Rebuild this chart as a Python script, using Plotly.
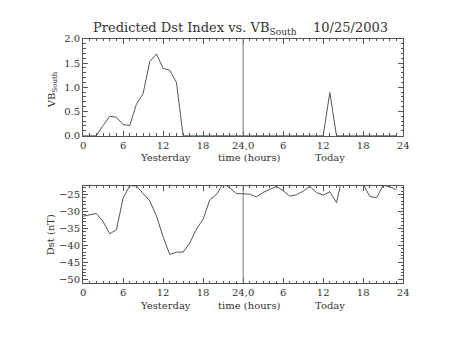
import plotly.graph_objects as go

hours = list(range(48))
vb_south = [0, 0, 0, 0.21, 0.40, 0.38, 0.23, 0.21, 0.65, 0.87, 1.53, 1.69, 1.39, 1.35, 1.10, 0,
            0, 0, 0, 0, 0, 0, 0, 0, 0, 0, 0, 0, 0, 0, 0, 0,
            0, 0, 0, 0, 0, 0.89, 0, 0, 0, 0, 0, 0, 0, 0, 0, 0]
dst = [-31.4, -31.0, -30.6, -33.0, -36.6, -35.4, -26.1, -22.4, -22.5, -24.7, -26.9, -31.3,
       -37.5, -42.7, -42.0, -42.0, -39.3, -35.2, -32.3, -26.6, -25.0, -21.8, -23.1, -24.7,
       -24.7, -24.9, -25.7, -24.4, -23.5, -22.6, -23.9, -25.5, -25.1, -24.0, -22.6, -24.4,
       -25.2, -24.2, -27.4, -18.7, -17.0, -18.0, -22.0, -25.6, -26.0, -22.3, -22.7, -23.6]
xtick_vals = [0, 6, 12, 18, 24, 30, 36, 42, 48]
xtick_text = ["0", "6", "12", "18", "24,0", "6", "12", "18", "24"]
vb_ticks = [0.0, 0.5, 1.0, 1.5, 2.0]
dst_ticks = [-50, -45, -40, -35, -30, -25]

W, H = 453, 340
FONT = "DejaVu Serif"
TXT = "#333"
LINE = "#555"

def px(v):
    return v / W

def py(v):
    return (H - v) / H

fig = go.Figure()
fig.add_trace(go.Scatter(x=hours, y=vb_south, mode="lines", line=dict(color=LINE, width=1),
                         xaxis="x", yaxis="y", showlegend=False))
fig.add_trace(go.Scatter(x=hours, y=dst, mode="lines", line=dict(color=LINE, width=1),
                         xaxis="x2", yaxis="y2", showlegend=False))

xcommon = dict(range=[0, 48], tickmode="array", tickvals=xtick_vals, ticktext=xtick_text,
               ticks="inside", ticklen=5, tickcolor=LINE, showline=True, linecolor=LINE,
               linewidth=1, mirror="ticks", showgrid=False, zeroline=False,
               tickfont=dict(family=FONT, size=10, color=TXT),
               minor=dict(ticks="inside", dtick=1, ticklen=2.5, tickcolor=LINE),
               domain=[px(81.7), px(408.3)])
ycommon = dict(ticks="inside", ticklen=5, tickcolor=LINE, showline=True, linecolor=LINE,
               linewidth=1, mirror="ticks", showgrid=False, zeroline=False,
               tickfont=dict(family=FONT, size=10, color=TXT))

fig.update_layout(
    width=W, height=H, margin=dict(l=0, r=0, t=0, b=0),
    plot_bgcolor="white", paper_bgcolor="white",
    xaxis=dict(xcommon, anchor="y"),
    xaxis2=dict(xcommon, anchor="y2"),
    yaxis=dict(ycommon, range=[0, 2.0], tickvals=vb_ticks, tickformat=".1f",
               minor=dict(ticks="inside", dtick=0.1, ticklen=2.5, tickcolor=LINE),
               domain=[py(135), py(35)], anchor="x"),
    yaxis2=dict(ycommon, range=[-51.1, -22.4], tickvals=dst_ticks,
                minor=dict(ticks="inside", dtick=1, ticklen=2.5, tickcolor=LINE),
                domain=[py(287.3), py(186.7)], anchor="x2"),
)

for xr, yr in (("x", "y"), ("x2", "y2")):
    fig.add_shape(type="line", xref=xr, yref=yr + " domain", x0=24, x1=24, y0=0, y1=1,
                  line=dict(color="#777", width=1))

ann = []
ann.append(dict(text="Predicted Dst Index vs. VB<sub>South</sub>    10/25/2003",
                x=px(242), y=py(24), xref="paper", yref="paper", showarrow=False,
                font=dict(family=FONT, size=13, color=TXT), xanchor="center", yanchor="middle"))
for ty in (157.7, 311):
    for label, h in (("Yesterday", 12.35), ("time (hours)", 25.0), ("Today", 37.1)):
        ann.append(dict(text=label, x=px(81.7 + h * 6.8), y=py(ty), xref="paper", yref="paper",
                        showarrow=False, font=dict(family=FONT, size=10, color=TXT),
                        xanchor="center", yanchor="middle"))
ann.append(dict(text="VB<sub>South</sub>", x=px(50), y=py(88), xref="paper", yref="paper",
                showarrow=False, textangle=-90, font=dict(family=FONT, size=10, color=TXT),
                xanchor="center", yanchor="middle"))
ann.append(dict(text="Dst (nT)", x=px(48), y=py(238), xref="paper", yref="paper",
                showarrow=False, textangle=-90, font=dict(family=FONT, size=10, color=TXT),
                xanchor="center", yanchor="middle"))
fig.update_layout(annotations=ann)

fig.write_html("out.html")
